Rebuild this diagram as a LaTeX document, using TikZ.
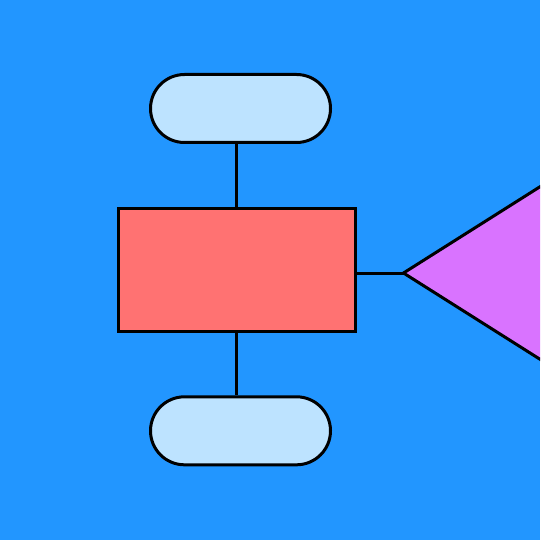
\documentclass[tikz,border=0pt]{standalone}
\usepackage{tikz}
\usetikzlibrary{calc}
\usetikzlibrary{positioning}

\definecolor{bgblue}{RGB}{34,150,255}
\definecolor{pillblue}{RGB}{189,227,255}
\definecolor{boxred}{RGB}{255,114,114}
\definecolor{conepurple}{RGB}{217,115,255}

\begin{document}
\begin{tikzpicture}[x=1pt,y=-1pt,line width=3pt,
  pill/.style={draw=black,fill=pillblue,minimum width=180pt,minimum height=68pt,rounded corners=34pt,inner sep=0pt},
  block/.style={draw=black,fill=boxred,minimum width=237pt,minimum height=123pt,inner sep=0pt}]
\useasboundingbox (0,0) rectangle (540,540);
\fill[bgblue] (0,0) rectangle (540,540);
\clip (0,0) rectangle (540,540);
\coordinate (tip) at (403.5,273);
\node[pill] (top) at (240.5,108.5) {};
\node[pill] (bottom) at (240.5,430.8) {};
\node[block] (box) at (236.7,269.7) {};
\draw (top.south -| box.center) -- (box.north);
\draw (box.south) -- (bottom.north -| box.center);
\draw (box.east |- tip) -- (tip);
\draw[fill=conepurple,line join=miter] ($(tip)+(216,-136.5)$) -- (tip) -- ($(tip)+(216,136.5)$);
\end{tikzpicture}
\end{document}
